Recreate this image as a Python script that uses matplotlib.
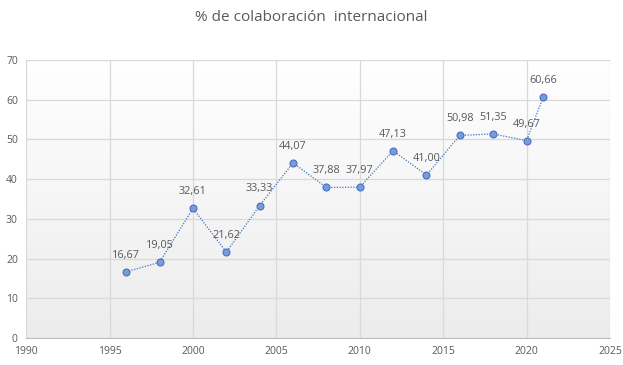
import matplotlib
matplotlib.use("Agg")
import matplotlib.pyplot as plt
import numpy as np
from matplotlib.colors import LinearSegmentedColormap

years = [1996, 1998, 2000, 2002, 2004, 2006, 2008, 2010, 2012, 2014, 2016, 2018, 2020, 2021]
values = [16.67, 19.05, 32.61, 21.62, 33.33, 44.07, 37.88, 37.97, 47.13, 41.00, 50.98, 51.35, 49.67, 60.66]
labels = ["16,67", "19,05", "32,61", "21,62", "33,33", "44,07", "37,88", "37,97", "47,13", "41,00", "50,98", "51,35", "49,67", "60,66"]
title = "% de colaboración  internacional"

plt.rcParams['font.family'] = ['Open Sans', 'DejaVu Sans']
txt = '#595959'

fig = plt.figure(figsize=(6.23, 3.65), dpi=100)
ax = fig.add_axes([0.042, 0.074, 0.937, 0.762])

grad = np.linspace(0, 1, 256).reshape(-1, 1)
cmap = LinearSegmentedColormap.from_list('g', ['#ffffff', '#ececec'])
ax.imshow(grad, aspect='auto', cmap=cmap, extent=[1990, 2025, 0, 70], origin='upper', zorder=0)
ax.set_xlim(1990, 2025)
ax.set_ylim(0, 70)

ax.set_xticks(range(1990, 2026, 5))
ax.set_yticks(range(0, 71, 10))
ax.grid(True, color='#d9d9d9', linewidth=0.9, zorder=1)
ax.set_axisbelow(False)
for s in ['top', 'right', 'left']:
    ax.spines[s].set_visible(False)
ax.spines['bottom'].set_color('#bfbfbf')
ax.tick_params(length=0, labelsize=7.5, labelcolor=txt, pad=6)

ax.plot(years, values, linestyle=(0, (1, 1.2)), color='#4472c4', linewidth=0.9,
        marker='o', markersize=5, markerfacecolor='#7b9bd8', markeredgecolor='#4472c4',
        markeredgewidth=0.8, zorder=3)
for x, y, l in zip(years, values, labels):
    ax.annotate(l, (x, y), xytext=(0, 8), textcoords='offset points', ha='center',
                va='bottom', fontsize=7.8, color=txt, zorder=4)

fig.text(0.5, 0.952, title, ha='center', va='center', fontsize=11, color=txt)
fig.savefig('out.png', dpi=100)
